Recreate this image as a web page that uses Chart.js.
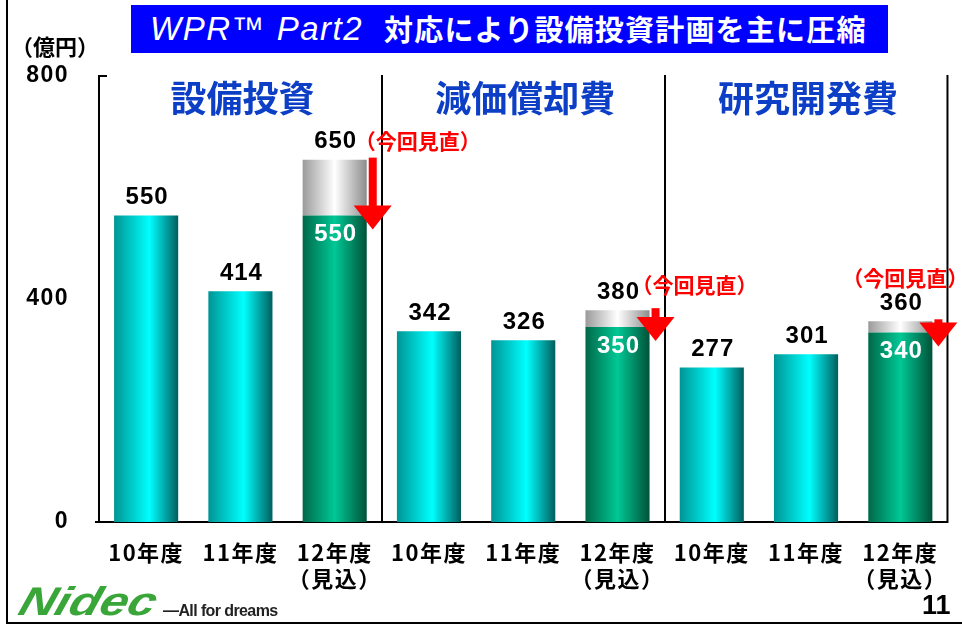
<!DOCTYPE html>
<html><head><meta charset="utf-8">
<script src="https://cdn.jsdelivr.net/npm/chart.js@4.4.1/dist/chart.umd.min.js"></script>
<style>
html,body{margin:0;padding:0;background:#fff;width:962px;height:625px;overflow:hidden;font-family:"Liberation Sans","Noto Sans CJK JP",sans-serif;}
#wrap{position:relative;width:962px;height:625px;}
#c{position:absolute;left:0;top:0;}
.frameL{position:absolute;left:6px;top:0;width:2px;height:624px;background:#000;}
.frameB{position:absolute;left:6px;top:622px;width:956px;height:2px;background:#000;}
#titlebox{position:absolute;left:131px;top:5px;width:757px;height:48px;background:#0000ff;color:#fff;white-space:nowrap;}
#titlebox .en{position:absolute;left:19px;top:5px;font-family:"Liberation Sans",sans-serif;font-style:italic;font-size:33px;letter-spacing:1.5px;}
#titlebox .jp{position:absolute;left:253px;top:5px;font-family:"Noto Sans CJK JP",sans-serif;font-weight:bold;font-size:29px;line-height:36px;letter-spacing:1.2px;}
#unit{position:absolute;left:11px;top:29px;font-family:"Noto Sans CJK JP",sans-serif;font-weight:bold;font-size:22px;color:#000;}
#logo{position:absolute;left:27px;top:581px;font-family:"Liberation Sans",sans-serif;font-style:italic;font-weight:900;font-size:40px;color:#3aa63a;letter-spacing:0px;transform-origin:0 0;transform:scaleX(1.25) skewX(-14deg);line-height:40px;}
#tag{position:absolute;left:163px;top:602px;font-family:"Liberation Sans",sans-serif;font-weight:bold;font-size:16px;color:#222;letter-spacing:-0.6px;}
#page{position:absolute;left:922px;top:590px;font-family:"Liberation Sans",sans-serif;font-weight:bold;font-size:27px;color:#000;}
</style>
</head>
<body>
<div id="wrap">
<canvas id="c" width="962" height="625"></canvas>
<div class="frameL"></div>
<div class="frameB"></div>
<div id="titlebox"><span class="en">WPR™ Part2</span><span class="jp">対応により設備投資計画を主に圧縮</span></div>
<div id="unit">（億円）</div>
<div id="logo">Nidec</div>
<div id="tag">—All for dreams</div>
<div id="page">11</div>
</div>
<script>
// ---- data ----
const categories = [
  ['10年度'], ['11年度'], ['12年度', '（見込）'],
  ['10年度'], ['11年度'], ['12年度', '（見込）'],
  ['10年度'], ['11年度'], ['12年度', '（見込）']
];
const groupTitles = ['設備投資', '減価償却費', '研究開発費'];
const actualValues = [550, 414, 550, 342, 326, 350, 277, 301, 340];
const previousPlan = [null, null, 650, null, null, 380, null, null, 360];
const revisedNote = '（今回見直）';
const yTicks = [0, 400, 800];

// ---- style (not data) ----
const noteOffsets = {2: [20, -19], 5: [14, -25], 8: [-58, -43]};
const titleColor = '#0d3fc6';
const numFont = '"Liberation Sans", "Noto Sans CJK JP", sans-serif';
const cjkFont = '"Noto Sans CJK JP", sans-serif';

function barFill(ctx, kind) {
  const chart = ctx.chart;
  if (!chart.chartArea || ctx.type !== 'data') return '#00cccc';
  const xs = chart.scales.x;
  const cx = xs.getPixelForValue(ctx.dataIndex);
  const w = xs.width / categories.length * 0.68;
  const g = chart.ctx.createLinearGradient(cx - w / 2, 0, cx + w / 2, 0);
  if (kind === 'gray') {
    g.addColorStop(0, '#9a9a9a'); g.addColorStop(0.5, '#ffffff'); g.addColorStop(1, '#8c8c8c');
  } else if (previousPlan[ctx.dataIndex] != null) {
    g.addColorStop(0, '#006848'); g.addColorStop(0.5, '#00c896'); g.addColorStop(1, '#005238');
  } else {
    g.addColorStop(0, '#009494'); g.addColorStop(0.55, '#00ffff'); g.addColorStop(1, '#005e5e');
  }
  return g;
}

const spacing = {
  id: 'spacing',
  beforeDraw(chart) { chart.ctx.letterSpacing = '1.5px'; },
  beforeDatasetsDraw(chart) { chart.ctx.letterSpacing = '0px'; }
};

const overlay = {
  id: 'overlay',
  afterDatasetsDraw(chart) {
    const {ctx, chartArea: a, scales: {x, y}} = chart;
    ctx.save();
    ctx.letterSpacing = '0px';
    ctx.strokeStyle = '#000'; ctx.lineWidth = 2;
    [2.5, 5.5].forEach(p => {
      const px = Math.round((x.getPixelForValue(Math.floor(p)) + x.getPixelForValue(Math.ceil(p))) / 2);
      ctx.beginPath(); ctx.moveTo(px, a.top - 1); ctx.lineTo(px, a.bottom); ctx.stroke();
    });
    ctx.beginPath(); ctx.moveTo(a.right, a.top - 1); ctx.lineTo(a.right, a.bottom + 1); ctx.stroke();
    ctx.beginPath(); ctx.moveTo(a.left - 1, a.top); ctx.lineTo(a.left + 8, a.top); ctx.stroke();
    ctx.beginPath(); ctx.moveTo(a.left - 4, a.bottom); ctx.lineTo(a.left, a.bottom); ctx.stroke();

    ctx.fillStyle = titleColor;
    ctx.font = 'bold 36px ' + cjkFont;
    ctx.textAlign = 'center'; ctx.textBaseline = 'middle';
    groupTitles.forEach((t, gi) => {
      const cx = x.getPixelForValue(gi * 3 + 1);
      ctx.fillText(t, cx + 2, 98);
    });

    const base = chart.getDatasetMeta(0).data;
    actualValues.forEach((v, i) => {
      const bar = base[i];
      const topVal = previousPlan[i] != null ? previousPlan[i] : v;
      const topY = y.getPixelForValue(topVal);
      ctx.fillStyle = '#000';
      ctx.font = 'bold 24px ' + numFont;
      ctx.letterSpacing = '1px';
      ctx.textAlign = 'center'; ctx.textBaseline = 'middle';
      ctx.fillText(String(topVal), bar.x + 1, topY - 18);
      if (previousPlan[i] != null) {
        const newY = y.getPixelForValue(v);
        ctx.fillStyle = '#fff';
        ctx.fillText(String(v), bar.x + 1, newY + 19);
        ctx.letterSpacing = '0px';
        const ax = bar.x + bar.width / 2 + 6;
        const tip = newY + 14;
        const headH = 24, headW = 38, shaftW = 8;
        ctx.fillStyle = '#ff0000';
        ctx.fillRect(ax - shaftW / 2, topY - 2, shaftW, tip - headH - topY + 3);
        ctx.beginPath();
        ctx.moveTo(ax - headW / 2, tip - headH);
        ctx.lineTo(ax + headW / 2, tip - headH);
        ctx.lineTo(ax, tip);
        ctx.closePath(); ctx.fill();
        const off = noteOffsets[i];
        ctx.font = 'bold 21px ' + cjkFont;
        ctx.textAlign = 'left';
        ctx.fillText(revisedNote, bar.x + off[0], topY + off[1]);
      }
      ctx.letterSpacing = '0px';
    });
    ctx.restore();
  }
};

new Chart(document.getElementById('c'), {
  type: 'bar',
  data: {
    labels: categories,
    datasets: [
      {label: '見込', data: actualValues, backgroundColor: c => barFill(c, 'base'), borderWidth: 0},
      {label: '前回計画', data: previousPlan.map((v, i) => v == null ? null : v - actualValues[i]), backgroundColor: c => barFill(c, 'gray'), borderWidth: 0}
    ]
  },
  options: {
    responsive: false, animation: false, devicePixelRatio: 1,
    layout: {padding: {top: 76, right: 12, left: 0, bottom: 0}},
    plugins: {legend: {display: false}, tooltip: {enabled: false}},
    datasets: {bar: {categoryPercentage: 1, barPercentage: 0.68}},
    scales: {
      x: {
        stacked: true,
        grid: {display: false, drawTicks: false},
        border: {display: true, color: '#000', width: 2},
        ticks: {color: '#000', font: {size: 22, weight: 'bold', family: cjkFont, lineHeight: 1.2}, padding: 17, maxRotation: 0, autoSkip: false},
        afterFit: s => { s.height = 103; }
      },
      y: {
        stacked: true, min: 0, max: 800,
        afterBuildTicks: s => { s.ticks = yTicks.map(v => ({value: v})); },
        grid: {display: false, drawTicks: false},
        border: {display: true, color: '#000', width: 2},
        ticks: {color: '#000', font: {size: 23, weight: 'bold', family: numFont}, padding: 30},
        afterFit: s => { s.width = 99; }
      }
    }
  },
  plugins: [spacing, overlay]
});
</script>
</body></html>
